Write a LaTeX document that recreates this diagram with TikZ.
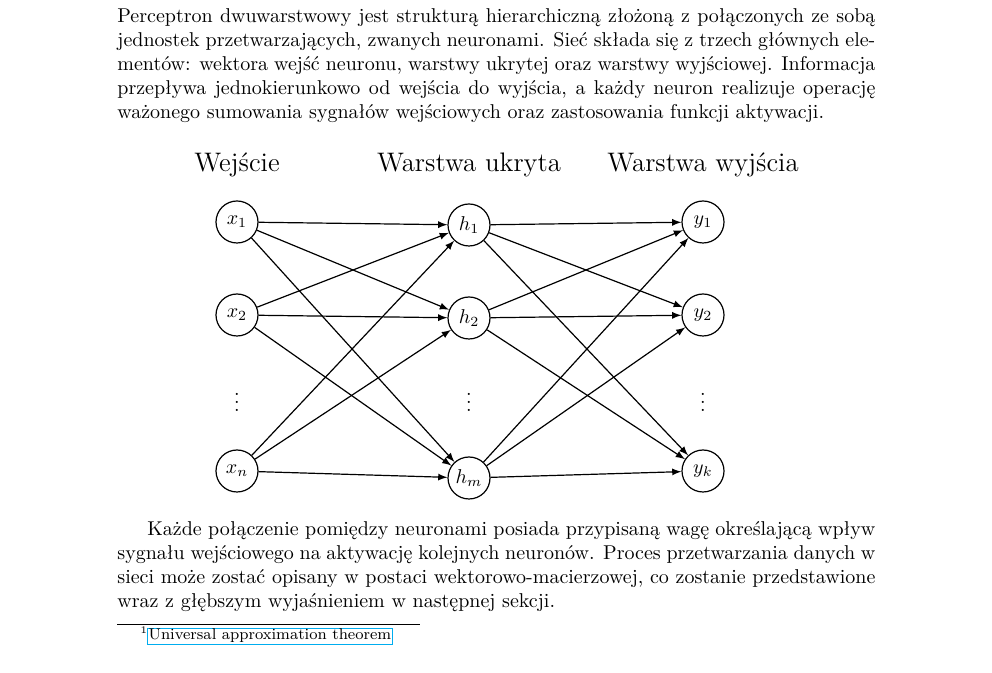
\documentclass[tikz,border=0pt]{standalone}
\usepackage{fontspec}
\usetikzlibrary{arrows}
\begin{document}
\begin{tikzpicture}[x=1pt,y=1pt,
  neuron/.style={draw,circle,minimum size=21pt,inner sep=0pt,line width=0.6pt},
  conn/.style={-latex,line width=0.6pt},
  head/.style={font=\fontsize{13.4}{16}\selectfont,anchor=base}]
\useasboundingbox (0,0) rectangle (496,-336.5);
\node[anchor=north west,inner sep=0pt,text width=379pt,align=justify] (p1) at (58.5,-4) {%
Perceptron dwuwarstwowy jest strukturą hierarchiczną złożoną z połączonych ze sobą\linebreak
jednostek przetwarzających, zwanych neuronami. Sieć składa się z trzech głównych ele-\linebreak
mentów: wektora wejść neuronu, warstwy ukrytej oraz warstwy wyjściowej. Informacja\linebreak
przepływa jednokierunkowo od wejścia do wyjścia, a każdy neuron realizuje operację\linebreak
ważonego sumowania sygnałów wejściowych oraz zastosowania funkcji aktywacji.};
\node[head] (t1) at (118.5,-86) {Wejście};
\node[head] (t2) at (234.5,-86) {Warstwa ukryta};
\node[head] (t3) at (351.5,-86) {Warstwa wyjścia};
\node[neuron] (x1) at (118.5,-111) {$x_1$};
\node[neuron] (x2) at (118.5,-157.5) {$x_2$};
\node (xd) at (118.5,-198) {$\vdots$};
\node[neuron] (xn) at (118.5,-235.5) {$x_n$};
\node[neuron] (h1) at (234.5,-112.5) {$h_1$};
\node[neuron] (h2) at (234.5,-159) {$h_2$};
\node (hd) at (234.5,-198) {$\vdots$};
\node[neuron] (hm) at (234.5,-239) {$h_m$};
\node[neuron] (y1) at (351.5,-111) {$y_1$};
\node[neuron] (y2) at (351.5,-157.5) {$y_2$};
\node (yd) at (351.5,-198) {$\vdots$};
\node[neuron] (yk) at (351.5,-235.5) {$y_k$};
\foreach \a in {x1,x2,xn}{\foreach \b in {h1,h2,hm}{\draw[conn] (\a) -- (\b);}}
\foreach \a in {h1,h2,hm}{\foreach \b in {y1,y2,yk}{\draw[conn] (\a) -- (\b);}}
\node[anchor=north west,inner sep=0pt,text width=379pt,align=justify] (p2) at (58.5,-260.5) {%
\hspace*{15pt}Każde połączenie pomiędzy neuronami posiada przypisaną wagę określającą wpływ\linebreak
sygnału wejściowego na aktywację kolejnych neuronów. Proces przetwarzania danych w\linebreak
sieci może zostać opisany w postaci wektorowo-macierzowej, co zostanie przedstawione\linebreak
wraz z głębszym wyjaśnieniem w następnej sekcji.};
\coordinate (r1) at (58.5,-312);
\coordinate (r2) at (210,-312);
\draw[line width=0.4pt] (r1) -- (r2);
\node[anchor=base west,inner sep=0pt,font=\tiny] (fn) at (70,-317) {1};
\node[anchor=base west,draw=cyan,inner sep=0.6pt,line width=0.4pt,font=\fontsize{7.8}{9}\selectfont] (ft) at (73.5,-320) {Universal approximation theorem};
\end{tikzpicture}
\end{document}
